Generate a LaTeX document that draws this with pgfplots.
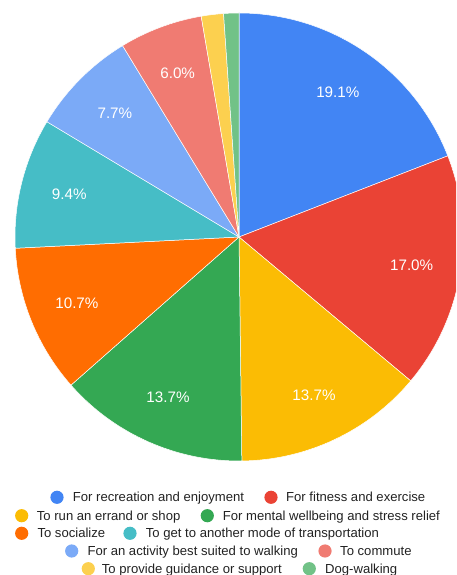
\documentclass[border=0pt]{standalone}
\usepackage{pgfplots}
\usepackage{pgfplotstable}
\pgfplotsset{compat=1.18}
\usepackage{fontspec}
\setmainfont{Liberation Sans}
\definecolor{c0}{HTML}{4285F4}
\definecolor{c1}{HTML}{EA4335}
\definecolor{c2}{HTML}{FBBC04}
\definecolor{c3}{HTML}{34A853}
\definecolor{c4}{HTML}{FF6D01}
\definecolor{c5}{HTML}{46BDC6}
\definecolor{c6}{HTML}{7BAAF7}
\definecolor{c7}{HTML}{F07B72}
\definecolor{c8}{HTML}{FCD04F}
\definecolor{c9}{HTML}{71C287}
\definecolor{legtext}{HTML}{222222}

\pgfplotstableread{
value
19.1
17.0
13.7
13.7
10.7
9.4
7.7
6.0
1.6
1.1
}\pietable

\newcommand\leg[5]{%
  \fill[#4] (axis cs:{#1-239},{237-#2}) circle[radius=6.6pt];
  \node[anchor=base west, inner sep=0pt, text=legtext, font=\fontsize{13.1}{15}\selectfont] at (axis cs:{#3-239},{237-#2-4.7}) {#5};
}

\begin{document}
\begin{tikzpicture}
\xdef\cum{0}
\foreach \i in {0,...,9}{
  \pgfplotstablegetelem{\i}{value}\of\pietable
  \pgfmathsetmacro\a{\cum*3.6}
  \pgfmathsetmacro\c{\cum+\pgfplotsretval}
  \pgfmathsetmacro\b{\c*3.6}
  \pgfmathsetmacro\m{(\a+\b)/2}
  \expandafter\xdef\csname sA\i\endcsname{\a}
  \expandafter\xdef\csname sB\i\endcsname{\b}
  \expandafter\xdef\csname sM\i\endcsname{\m}
  \expandafter\xdef\csname sV\i\endcsname{\pgfplotsretval}
  \xdef\cum{\c}
}
\begin{axis}[x=1pt, y=1pt, xmin=-239, xmax=217, ymin=-338, ymax=237,
  enlargelimits=false, hide axis, scale only axis, at={(0,0)}, anchor=south west, clip=true]
\pgfplotsinvokeforeach{0,...,9}{
  \fill[c#1, draw=white, line width=0.5pt] (axis cs:0,0) -- (axis cs:{224*sin(\csname sA#1\endcsname)},{224*cos(\csname sA#1\endcsname)}) arc[start angle={90-\csname sA#1\endcsname}, end angle={90-\csname sB#1\endcsname}, radius=224pt] -- cycle;
}
\pgfplotsinvokeforeach{0,...,7}{
  \node[text=white, inner sep=0pt, font=\fontsize{15.2}{17}\selectfont] at (axis cs:{175*sin(\csname sM#1\endcsname)},{175*cos(\csname sM#1\endcsname)}) {\csname sV#1\endcsname\%};
}
\leg{57}{497.3}{72.7}{c0}{For recreation and enjoyment}
\leg{271}{497.3}{286}{c1}{For fitness and exercise}
\leg{21.7}{515.7}{36.7}{c2}{To run an errand or shop}
\leg{207.3}{515.7}{222.7}{c3}{For mental wellbeing and stress relief}
\leg{21.7}{533.3}{37.3}{c4}{To socialize}
\leg{130}{533.3}{145.7}{c5}{To get to another mode of transportation}
\leg{71.7}{551}{87.3}{c6}{For an activity best suited to walking}
\leg{325}{551}{340}{c7}{To commute}
\leg{88.3}{568.7}{101.7}{c8}{To provide guidance or support}
\leg{309.3}{568.7}{325}{c9}{Dog-walking}
\end{axis}
\pgfresetboundingbox
\path[use as bounding box] (0,0) rectangle (456pt,575pt);
\end{tikzpicture}
\end{document}
